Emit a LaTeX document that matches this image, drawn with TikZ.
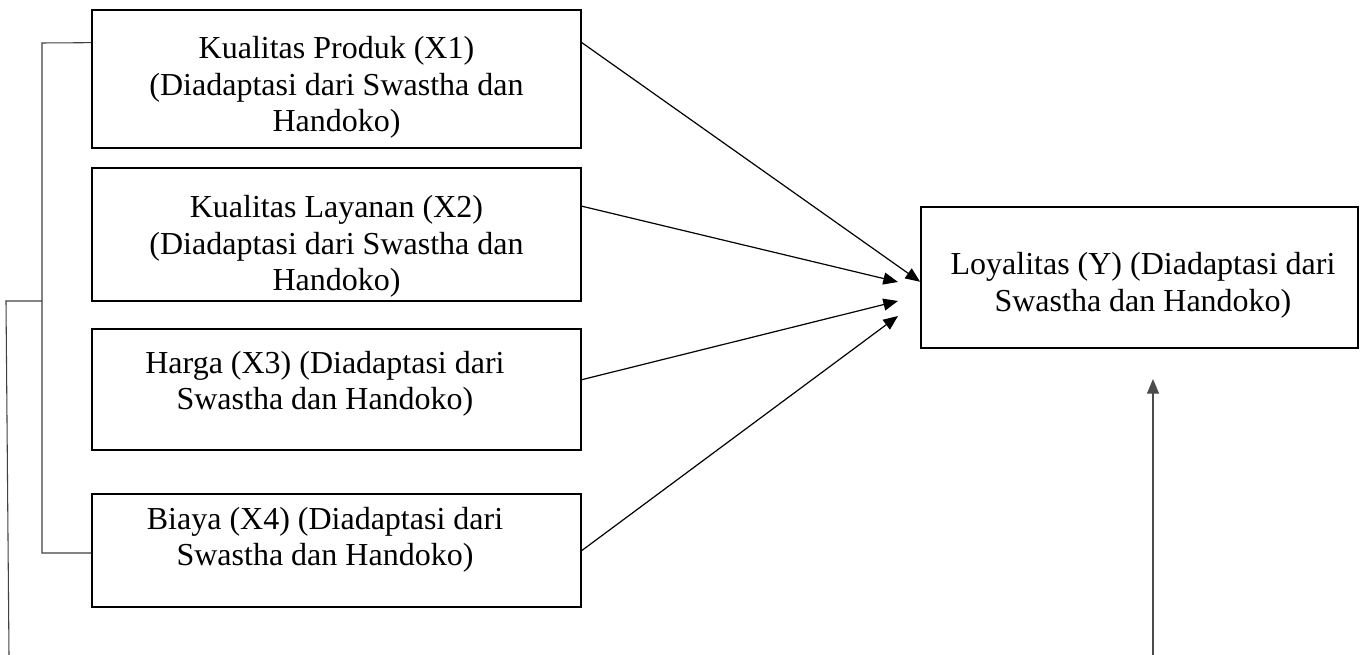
\documentclass[tikz,border=0pt]{standalone}
\usepackage{fontspec}
\setmainfont{Liberation Serif}
\usetikzlibrary{arrows.meta,calc}
\begin{document}
\begin{tikzpicture}[x=0.75pt,y=-0.75pt,
  box/.style={draw, line width=1.3pt, inner sep=0pt, fill=none},
  lbl/.style={align=center, inner sep=0pt,
    font=\fontsize{24pt}{27.4pt}\selectfont},
  link/.style={line width=0.9pt, -{Triangle[length=11pt,width=9pt]}},
  bracket/.style={line width=0.8pt, draw=black!75},
]
\useasboundingbox (0,0) rectangle (1360,655);

% predictor boxes
\node[box, minimum width=489*0.75pt, minimum height=138*0.75pt] (x1) at (336.5,79) {};
\node[box, minimum width=489*0.75pt, minimum height=133*0.75pt] (x2) at (336.5,234.5) {};
\node[box, minimum width=489*0.75pt, minimum height=121*0.75pt] (x3) at (336.5,389.5) {};
\node[box, minimum width=489*0.75pt, minimum height=113*0.75pt] (x4) at (336.5,550.5) {};
% outcome box
\node[box, minimum width=437*0.75pt, minimum height=141*0.75pt] (y) at (1139.5,277.5) {};

% labels
\node[lbl] (t1) at (336.5,87.5) {Kualitas Produk (X1)\\(Diadaptasi dari Swastha dan\\Handoko)};
\node[lbl] (t2) at (336.5,246.5) {Kualitas Layanan (X2)\\(Diadaptasi dari Swastha dan\\Handoko)};
\node[lbl] (t3) at (325,384) {Harga (X3) (Diadaptasi dari\\Swastha dan Handoko)};
\node[lbl] (t4) at (325,540) {Biaya (X4) (Diadaptasi dari\\Swastha dan Handoko)};
\node[lbl] (ty) at (1143,285.5) {Loyalitas (Y) (Diadaptasi dari\\Swastha dan Handoko)};

% arrow start and end points
\coordinate (s1) at ($(x1.north east)!0.24!(x1.south east)$);
\coordinate (s2) at ($(x2.north east)!0.29!(x2.south east)$);
\coordinate (s3) at ($(x3.north east)!0.42!(x3.south east)$);
\coordinate (s4) at (x4.east);
\coordinate (e1) at ($(y.north west)!0.53!(y.south west)$);
\coordinate (e2) at (898,282);
\coordinate (e3) at (898,301);
\coordinate (e4) at (898,316);

\draw[link] (s1) -- (e1);
\draw[link] (s2) -- (e2);
\draw[link] (s3) -- (e3);
\draw[link] (s4) -- (e4);

% bracket joining the predictors
\coordinate (b1) at ($(x1.north west)!0.24!(x1.south west)$);
\coordinate (j) at (42,301);
\draw[bracket] (b1) -- (42,43) -- (42,553) -- (x4.west |- 0,553);
\draw[bracket] (j) -- (6,301) -- (9,655);

% vertical arrow towards the outcome
\coordinate (vb) at (1153,655);
\coordinate (vt) at (1153,379);
\draw[link, draw=black!70] (vb) -- (vt);
\end{tikzpicture}
\end{document}
